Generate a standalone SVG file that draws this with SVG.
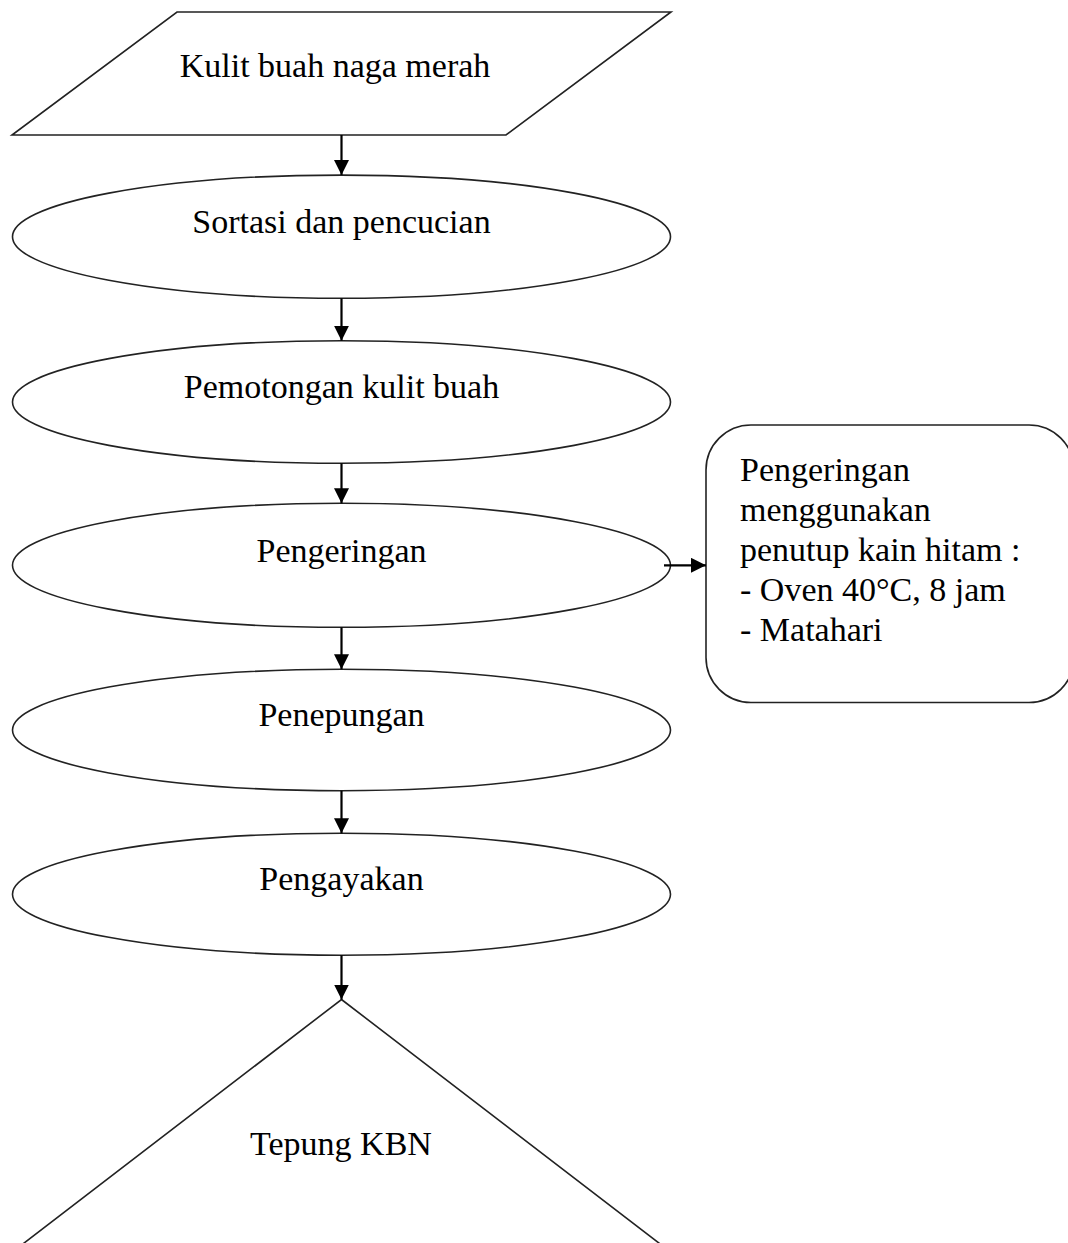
<svg xmlns="http://www.w3.org/2000/svg" width="1068" height="1243" viewBox="0 0 1068 1243">
<style>
.shape{fill:#fff;stroke:#222;stroke-width:1.6}
.lbl{font-family:"Liberation Serif","Times New Roman",serif;font-size:34px;fill:#000}
.c{text-anchor:middle}
.conn{stroke:#000;stroke-width:2.2;fill:none}
</style>
<defs>
<marker id="ah" markerUnits="userSpaceOnUse" markerWidth="16" markerHeight="16" refX="15" refY="7.5" orient="auto">
<path d="M0,0 L15,7.5 L0,15 z" fill="#000"/>
</marker>
</defs>
<rect width="1068" height="1243" fill="#fff"/>
<g id="n-kulit">
<polygon class="shape" points="177,12 671,12 506,135 12,135"/>
<text class="lbl c" x="335" y="77">Kulit buah naga merah</text>
</g>
<g id="n-sortasi">
<ellipse class="shape" cx="341.5" cy="236.7" rx="329" ry="61.6"/>
<text class="lbl c" x="341.5" y="233">Sortasi dan pencucian</text>
</g>
<g id="n-pemotongan">
<ellipse class="shape" cx="341.5" cy="402" rx="329" ry="61.3"/>
<text class="lbl c" x="341.5" y="398">Pemotongan kulit buah</text>
</g>
<g id="n-pengeringan">
<ellipse class="shape" cx="341.5" cy="565.3" rx="329" ry="62"/>
<text class="lbl c" x="341.5" y="561.5">Pengeringan</text>
</g>
<g id="n-penepungan">
<ellipse class="shape" cx="341.5" cy="730" rx="329" ry="60.7"/>
<text class="lbl c" x="341.5" y="726">Penepungan</text>
</g>
<g id="n-pengayakan">
<ellipse class="shape" cx="341.5" cy="894.2" rx="329" ry="61"/>
<text class="lbl c" x="341.5" y="890">Pengayakan</text>
</g>
<g id="n-tepung">
<polygon class="shape" points="341.5,999.5 668,1250 15,1250"/>
<text class="lbl c" x="341" y="1155">Tepung KBN</text>
</g>
<g id="n-catatan">
<rect class="shape" x="706" y="425" width="368" height="277.5" rx="45" ry="45"/>
<text class="lbl" x="740" y="480.5">Pengeringan</text>
<text class="lbl" x="740" y="520.5">menggunakan</text>
<text class="lbl" x="740" y="560.5">penutup kain hitam :</text>
<text class="lbl" x="740" y="600.5">- Oven 40°C, 8 jam</text>
<text class="lbl" x="740" y="640.5">- Matahari</text>
</g>
<g id="connectors">
<line class="conn" x1="341.5" y1="135" x2="341.5" y2="175" marker-end="url(#ah)"/>
<line class="conn" x1="341.5" y1="298.3" x2="341.5" y2="340.7" marker-end="url(#ah)"/>
<line class="conn" x1="341.5" y1="463.3" x2="341.5" y2="503.3" marker-end="url(#ah)"/>
<line class="conn" x1="341.5" y1="627.3" x2="341.5" y2="669.3" marker-end="url(#ah)"/>
<line class="conn" x1="341.5" y1="790.7" x2="341.5" y2="833.3" marker-end="url(#ah)"/>
<line class="conn" x1="341.5" y1="955.2" x2="341.5" y2="999.5" marker-end="url(#ah)"/>
<line class="conn" x1="664" y1="565.3" x2="706" y2="565.3" marker-end="url(#ah)"/>
</g>
</svg>
